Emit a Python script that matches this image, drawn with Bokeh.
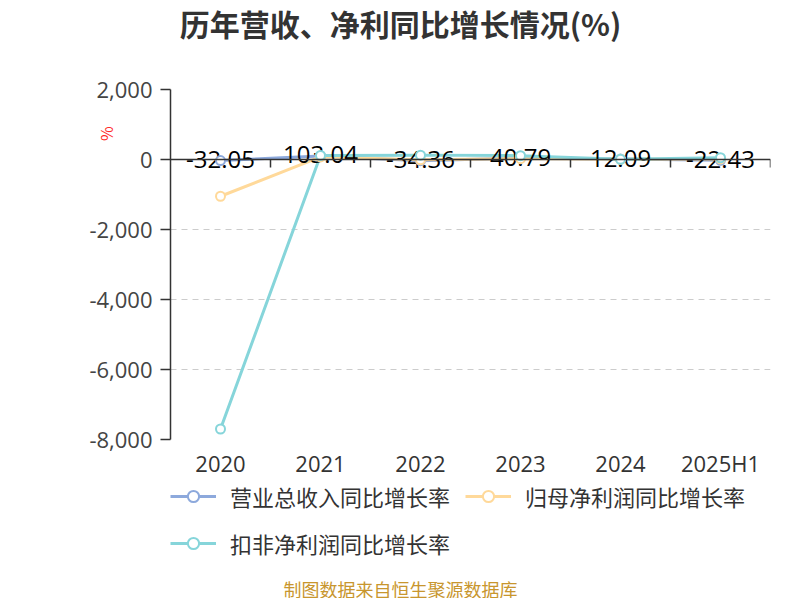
from bokeh.plotting import figure
from bokeh.layouts import column
from bokeh.models import (Range1d, LinearAxis, FixedTicker, NumeralTickFormatter, CustomJSTickFormatter,
                          Legend, LegendItem, Label, ColumnDataSource)
from bokeh.core.properties import value
from bokeh.embed import file_html
from bokeh.resources import INLINE

years = ["2020", "2021", "2022", "2023", "2024", "2025H1"]
revenue_growth = [-32.05, 103.04, -34.36, 40.79, 12.09, -22.43]
netprofit_growth = [-1050.0, 75.0, -10.0, 25.0, 5.0, 15.0]
deducted_growth = [-7700.0, 115.0, 125.0, 110.0, 5.0, 50.0]
series_names = ["营业总收入同比增长率", "归母净利润同比增长率", "扣非净利润同比增长率"]
y_ticks = [-8000, -6000, -4000, -2000, 0, 2000]
title_text = "历年营收、净利同比增长情况(%)"
footer_text = "制图数据来自恒生聚源数据库"

colors = ["#8DA9DC", "#FFD99A", "#86D5DA"]
CJK = "Noto Sans CJK SC"
NUM = "Open Sans"
LEFT, RIGHT, FW = 170, 14, 600


def blank(height):
    f = figure(frame_width=FW, frame_height=height, x_range=Range1d(0, FW),
               y_range=Range1d(0, height), x_axis_type=None, y_axis_type=None,
               output_backend="svg", toolbar_location=None,
               min_border_left=LEFT, min_border_right=RIGHT, min_border_top=0, min_border_bottom=0)
    f.outline_line_color = None
    f.xgrid.grid_line_color = None
    f.ygrid.grid_line_color = None
    f.background_fill_color = "white"
    f.border_fill_color = "white"
    return f


# ---- title strip ----
top = blank(74)
top.add_layout(Label(x=230, y=52, text=title_text, text_align="center", text_baseline="middle",
                     text_font=CJK, text_font_size="30px", text_font_style="bold",
                     text_color="#333333"))

# ---- main chart ----
n = len(years)
xpos = [i + 0.5 for i in range(n)]  # category centres

p = figure(frame_width=FW, frame_height=350, x_range=Range1d(0, n), y_range=Range1d(-8000, 2000),
           output_backend="svg", toolbar_location=None,
           min_border_left=LEFT, min_border_right=RIGHT, min_border_top=15, min_border_bottom=30)
p.outline_line_color = None
p.background_fill_color = "white"
p.border_fill_color = "white"

p.yaxis.ticker = FixedTicker(ticks=y_ticks)
p.yaxis.formatter = NumeralTickFormatter(format="0,0")
p.yaxis.axis_line_color = "#333333"
p.yaxis.axis_line_width = 1.5
p.yaxis.major_tick_line_color = "#333333"
p.yaxis.major_tick_line_width = 1.5
p.yaxis.major_tick_out = 10
p.yaxis.major_tick_in = 0
p.yaxis.minor_tick_line_color = None
p.yaxis.major_label_standoff = 8
p.yaxis.major_label_text_font = NUM
p.yaxis.major_label_text_font_size = "22px"
p.yaxis.major_label_text_color = "#444444"
p.yaxis.axis_label = "%" + "\u2003" * 5 + "\u2002"
p.yaxis.axis_label_text_color = "#ff2a2a"
p.yaxis.axis_label_text_font = CJK
p.yaxis.axis_label_text_font_size = "16px"
p.yaxis.axis_label_text_font_style = "normal"
p.yaxis.axis_label_standoff = -32
p.yaxis.axis_label_align = "end"

p.xaxis.ticker = FixedTicker(ticks=xpos)
p.xaxis.formatter = CustomJSTickFormatter(args=dict(labels=years),
                                          code="return labels[Math.floor(tick)]")
p.xaxis.axis_line_color = None
p.xaxis.major_tick_line_color = None
p.xaxis.minor_tick_line_color = None
p.xaxis.major_tick_out = 0
p.xaxis.major_tick_in = 0
p.xaxis.major_label_standoff = 8
p.xaxis.major_label_text_font = NUM
p.xaxis.major_label_text_font_size = "22px"
p.xaxis.major_label_text_color = "#333333"

zero_axis = LinearAxis(fixed_location=0,
                       ticker=FixedTicker(ticks=list(range(1, n + 1))),
                       major_label_text_font_size="0px", major_label_text_alpha=0,
                       major_label_standoff=0,
                       axis_line_color="#333333", axis_line_width=1.5,
                       major_tick_line_color="#333333", major_tick_line_width=1.5,
                       major_tick_in=8, major_tick_out=0, minor_tick_line_color=None)
p.add_layout(zero_axis, "above")

p.xgrid.grid_line_color = None
p.ygrid.ticker = FixedTicker(ticks=y_ticks)
p.ygrid.grid_line_color = "#cccccc"
p.ygrid.grid_line_dash = "6 5"
p.ygrid.grid_line_width = 1

src = ColumnDataSource(dict(x=xpos, rev=revenue_growth, net=netprofit_growth, ded=deducted_growth,
                            lbl=[f"{v:.2f}" for v in revenue_growth]))

fields = ["rev", "net", "ded"]
for fld, c in zip(fields, colors):
    p.line("x", fld, source=src, line_color=c, line_width=3)

p.text("x", "rev", text="lbl", source=src, text_align="center", text_baseline="middle",
       text_font=value(NUM), text_font_size="24px", text_color="#000000", y_offset=-1)

for fld, c in zip(fields, colors):
    p.scatter("x", fld, source=src, marker="circle", size=9, fill_color="white",
              line_color=c, line_width=2)

# ---- legend + footer strip ----
bottom = blank(118)
nan_src = ColumnDataSource(dict(x=[float("nan")], y=[float("nan")]))
items = []
for nm, c in zip(series_names, colors):
    lr = bottom.line("x", "y", source=nan_src, line_color=c, line_width=3)
    mr = bottom.scatter("x", "y", source=nan_src, marker="circle", size=20, fill_color="white",
                        line_color=c, line_width=2)
    items.append(LegendItem(label=nm, renderers=[lr, mr]))
legend = Legend(items=items, location="top_left", orientation="horizontal", ncols=2,
                glyph_width=46, glyph_height=28, label_standoff=14, label_height=28,
                spacing=15, padding=0, margin=0, border_line_color=None, background_fill_alpha=0,
                label_text_font=CJK, label_text_font_size="22px", label_text_color="#333333")
bottom.add_layout(legend)
bottom.add_layout(Label(x=230, y=10, text=footer_text, text_align="center", text_baseline="middle",
                        text_font=CJK, text_font_size="18px", text_color="#C8962E"))

layout = column(top, p, bottom, spacing=0)
open("out.html", "w").write(file_html(layout, INLINE))
